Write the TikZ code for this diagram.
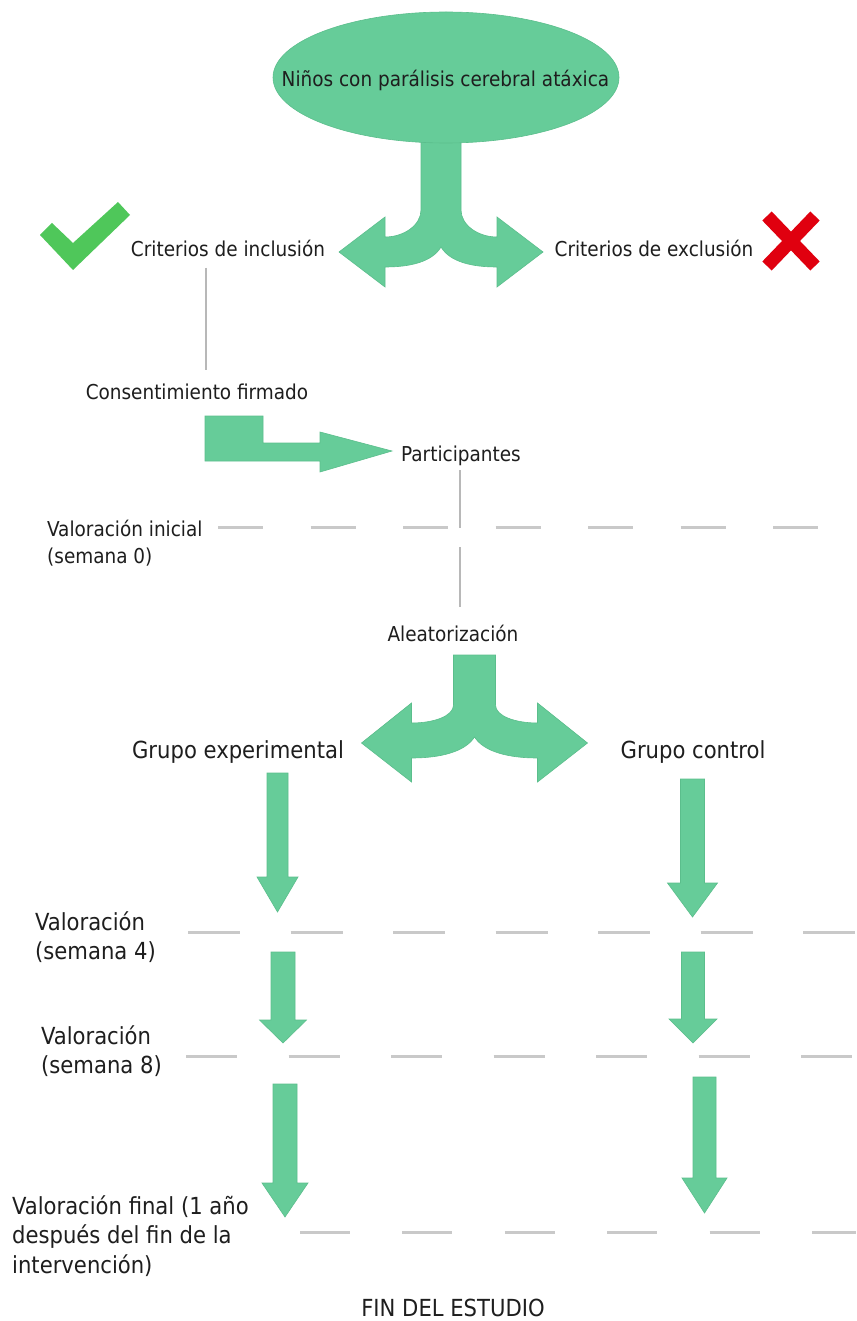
\documentclass[tikz,border=0pt]{standalone}
\usepackage{fontspec}
\setmainfont{DejaVu Sans Condensed}
\usetikzlibrary{shapes.geometric}
\definecolor{arrowgreen}{HTML}{66CC99}
\definecolor{arrowedge}{HTML}{5BBE8C}
\definecolor{checkgreen}{HTML}{4FC75A}
\definecolor{crossred}{HTML}{E0000F}
\definecolor{dashgrey}{HTML}{C9C9C9}
\definecolor{linegrey}{HTML}{B8B8B8}
\definecolor{txt}{HTML}{1E1E1E}
\tikzset{
  garrow/.style={fill=arrowgreen, draw=arrowedge, line width=0.6pt, line join=miter},
  lbl/.style={inner sep=0pt, text=txt, font=\fontsize{20.5}{27}\selectfont},
  lblbig/.style={inner sep=0pt, text=txt, font=\fontsize{23.5}{29.5}\selectfont},
  sepline/.style={draw=dashgrey, line width=3pt},
  thinline/.style={draw=linegrey, line width=1.1pt},
}
\newcommand{\dnarrow}[6]{% cx, top, head back, tip, shaft half, head half
  \path[garrow] ({#1-#5},#2) -- ({#1+#5},#2) -- ({#1+#5},#3) -- ({#1+#6},#3) -- (#1,#4) -- ({#1-#6},#3) -- ({#1-#5},#3) -- cycle;}
\begin{document}
\begin{tikzpicture}[x=1pt,y=-1pt]
\useasboundingbox (0,0) rectangle (856,1321);
\fill[white] (0,0) rectangle (856,1321);

% top split arrow
\path[garrow] (421,130) -- (421,210) .. controls (421,225) and (404,237) .. (385,237) -- (385,217) -- (339,252) -- (385,287) -- (385,267) .. controls (410,267) and (432,262) .. (441,247) .. controls (450,262) and (472,267) .. (497,267) -- (497,287) -- (543,252) -- (497,217) -- (497,237) .. controls (478,237) and (461,225) .. (461,210) -- (461,130) -- cycle;

% ellipse
\node[ellipse, fill=arrowgreen, draw=arrowedge, line width=0.6pt, minimum width=346pt, minimum height=131pt, inner sep=0pt] (ninos) at (446,77.5) {};
\node[lbl, anchor=base] (ninostxt) at (445.5,87) {Niños con parálisis cerebral atáxica};

% check and cross
\fill[checkgreen] (40,235) -- (52,223) -- (73,243) -- (118,202) -- (130,215) -- (73,270) -- cycle;
\draw[crossred, line width=13pt] (767,216) -- (815,266) (815,216) -- (767,266);

\node[lbl, anchor=base] (incl) at (228,257) {Criterios de inclusión};
\node[lbl, anchor=base] (excl) at (654,257) {Criterios de exclusión};

\coordinate (incla) at (206,268);
\coordinate (consa) at (206,370);
\draw[thinline] (incla) -- (consa);

\node[lbl, anchor=base] (cons) at (197,399) {Consentimiento firmado};

% bent arrow
\path[garrow] (205,416) -- (263,416) -- (263,443) -- (320,443) -- (320,432) -- (392,451) -- (320,472) -- (320,461) -- (205,461) -- cycle;

\node[lbl, anchor=base] (part) at (461,461) {Participantes};

\coordinate (parta) at (460,470);
\coordinate (partb) at (460,528);
\coordinate (aleaa) at (460,547);
\coordinate (aleab) at (460,607);
\draw[thinline] (parta) -- (partb);
\draw[thinline] (aleaa) -- (aleab);

% dashed separators
\draw[sepline, dash pattern=on 45pt off 47.5pt] (218,527) -- (818,527);
\draw[sepline, dash pattern=on 52pt off 50.5pt] (188,932) -- (856,932);
\draw[sepline, dash pattern=on 51pt off 51.5pt] (186,1056) -- (856,1056);
\draw[sepline, dash pattern=on 50pt off 52.4pt] (300,1232) -- (856,1232);

\node[lbl, anchor=base west] (v0) at (47,536) {\begin{tabular}[t]{@{}l@{}}Valoración inicial\\(semana 0)\end{tabular}};

\node[lbl, anchor=base] (alea) at (453,641) {Aleatorización};

% second split arrow
\path[garrow] (453.5,655) -- (453.5,705) .. controls (453.5,716) and (434,723) .. (411.5,723) -- (411.5,703) -- (361.5,743) -- (411.5,782) -- (411.5,758) .. controls (440,758) and (465,752) .. (474.5,737) .. controls (484,752) and (509,758) .. (537.5,758) -- (537.5,782) -- (587.5,743) -- (537.5,703) -- (537.5,723) .. controls (515,723) and (495.5,716) .. (495.5,705) -- (495.5,655) -- cycle;

\node[lblbig, anchor=base] (gexp) at (238,758) {Grupo experimental};
\node[lblbig, anchor=base] (gctl) at (693,758) {Grupo control};

% down arrows
\dnarrow{277.5}{773}{877}{912}{10.5}{20.5}
\dnarrow{692.5}{779}{883}{917}{12}{25}
\dnarrow{283}{952}{1020}{1043}{12}{23.5}
\dnarrow{693}{952}{1019}{1043}{11.5}{24}
\dnarrow{285}{1084}{1183}{1217}{12}{23}
\dnarrow{704.5}{1077}{1178}{1213}{11.5}{22.5}

\node[lblbig, anchor=base west] (v4) at (35,930) {\begin{tabular}[t]{@{}l@{}}Valoración\\(semana 4)\end{tabular}};
\node[lblbig, anchor=base west] (v8) at (41,1044) {\begin{tabular}[t]{@{}l@{}}Valoración\\(semana 8)\end{tabular}};
\node[lblbig, anchor=base west] (vfin) at (12,1214) {\begin{tabular}[t]{@{}l@{}}Valoración final (1 año\\después del fin de la\\intervención)\end{tabular}};

\node[lblbig, anchor=base] (fin) at (453,1316) {FIN DEL ESTUDIO};
\end{tikzpicture}
\end{document}
